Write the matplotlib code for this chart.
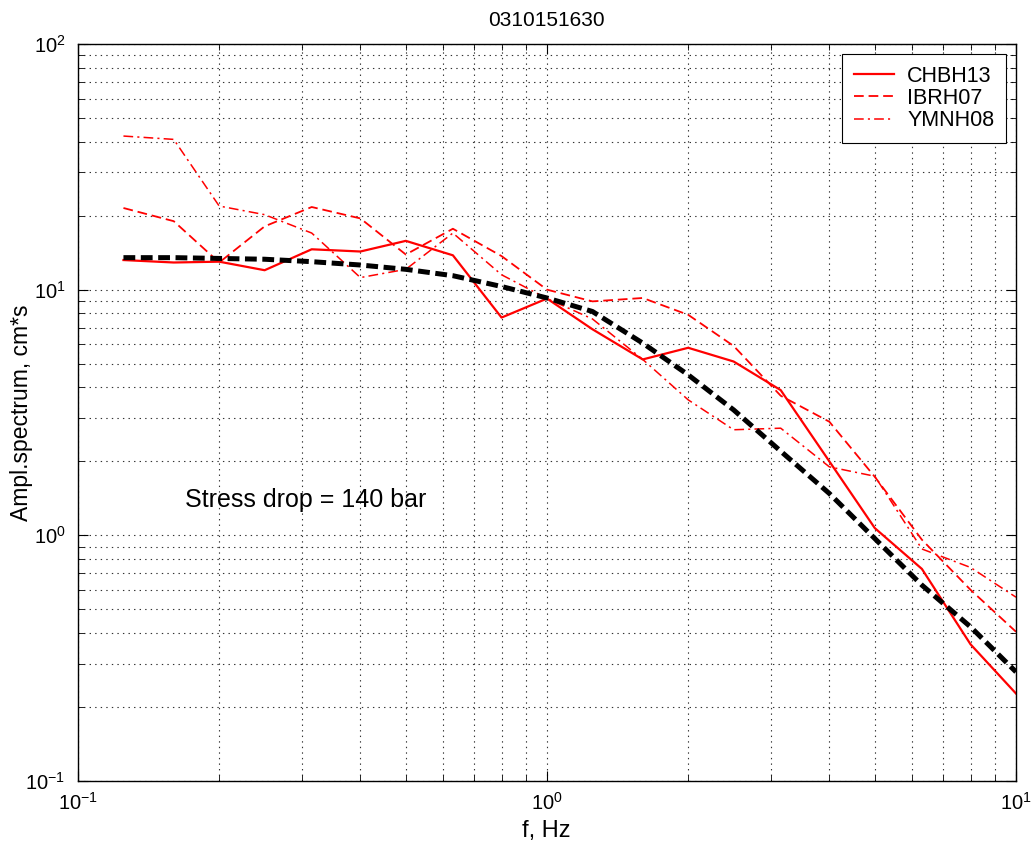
import matplotlib
matplotlib.use("Agg")
import matplotlib.pyplot as plt
from matplotlib.ticker import LogLocator, NullFormatter

plt.rcParams['font.family'] = ['Liberation Sans', 'DejaVu Sans']
plt.rcParams['mathtext.fontset'] = 'custom'
plt.rcParams['mathtext.rm'] = 'Liberation Sans'
plt.rcParams['mathtext.it'] = 'Liberation Sans'
plt.rcParams['mathtext.bf'] = 'Liberation Sans'
plt.rcParams['lines.scale_dashes'] = False

freq = [0.125, 0.16, 0.2, 0.25, 0.315, 0.4, 0.5, 0.63, 0.8, 1.0,
        1.25, 1.6, 2.0, 2.5, 3.15, 4.0, 5.0, 6.3, 8.0, 10.0]

chbh13 = [13.2, 12.9, 13.0, 12.0, 14.6, 14.3, 15.8, 13.8, 7.7, 9.2,
          6.9, 5.2, 5.8, 5.1, 3.9, 2.0, 1.07, 0.73, 0.36, 0.227]
ibrh07 = [21.5, 19.0, 12.9, 18.1, 21.7, 19.5, 13.9, 17.7, 13.7, 10.0,
          8.96, 9.25, 7.9, 5.9, 3.7, 2.9, 1.73, 0.96, 0.60, 0.405]
ymnh08 = [42.2, 40.9, 21.9, 20.2, 17.0, 11.2, 12.1, 17.0, 11.5, 9.2,
          7.6, 5.2, 3.56, 2.69, 2.73, 1.9, 1.74, 0.88, 0.74, 0.56]
model = [13.5, 13.5, 13.4, 13.3, 13.0, 12.6, 12.1, 11.4, 10.3, 9.25,
         8.15, 6.06, 4.5, 3.24, 2.2, 1.48, 0.97, 0.627, 0.424, 0.278]

title = "0310151630"
xlabel = "f, Hz"
ylabel = "Ampl.spectrum, cm*s"
annot = "Stress drop = 140 bar"
names = ["CHBH13", "IBRH07", "YMNH08"]

W, H = 1035, 847
fig = plt.figure(figsize=(W / 100, H / 100), dpi=100)
ax = fig.add_axes([78 / W, (H - 781) / H, (1016 - 78) / W, (781 - 44) / H])

ax.plot(freq, chbh13, color='red', lw=1.6, ls='-', label=names[0])
ax.plot(freq, ibrh07, color='red', lw=1.3, dashes=(7, 3.5), label=names[1])
ax.plot(freq, ymnh08, color='red', lw=1.1, dashes=(7, 3, 1.5, 3), label=names[2])
ax.plot(freq, model, color='black', lw=3.6, dashes=(8.5, 4))

ax.set_xscale('log')
ax.set_yscale('log')
ax.set_xlim(0.1, 10)
ax.set_ylim(0.1, 100)

ax.xaxis.set_major_locator(LogLocator(base=10, numticks=10))
ax.yaxis.set_major_locator(LogLocator(base=10, numticks=10))
ax.xaxis.set_minor_locator(LogLocator(base=10, subs=range(2, 10), numticks=20))
ax.yaxis.set_minor_locator(LogLocator(base=10, subs=range(2, 10), numticks=20))
ax.xaxis.set_minor_formatter(NullFormatter())
ax.yaxis.set_minor_formatter(NullFormatter())

ax.grid(True, which='both', color='#333333', lw=0.8, linestyle=(0, (1, 3)))
ax.tick_params(which='both', direction='in', top=True, right=True)
ax.tick_params(which='major', length=7, labelsize=14.5)
ax.tick_params(axis='y', which='major', pad=9)
ax.tick_params(axis='x', which='major', pad=8)
ax.tick_params(which='minor', length=4)
for s in ax.spines.values():
    s.set_linewidth(1.0)

fig.text(546 / W, 1 - 20 / H, title, fontsize=15, ha='center', va='center')
fig.text(546 / W, 1 - 831 / H, xlabel, fontsize=17, ha='center', va='center')
fig.text(22 / W, 1 - 413 / H, ylabel, fontsize=16.5, ha='center', va='center',
         rotation=90)

ax.text(0.169, 1.39, annot, fontsize=18, ha='left', va='center')

leg = ax.legend(loc='upper right', fontsize=15.5, frameon=True, fancybox=False,
                edgecolor='black', framealpha=1, handlelength=1.9,
                handletextpad=0.6, borderaxespad=0.45, labelspacing=0.06,
                borderpad=0.55)
leg.get_frame().set_linewidth(0.8)

fig.savefig("out.png", dpi=100)
